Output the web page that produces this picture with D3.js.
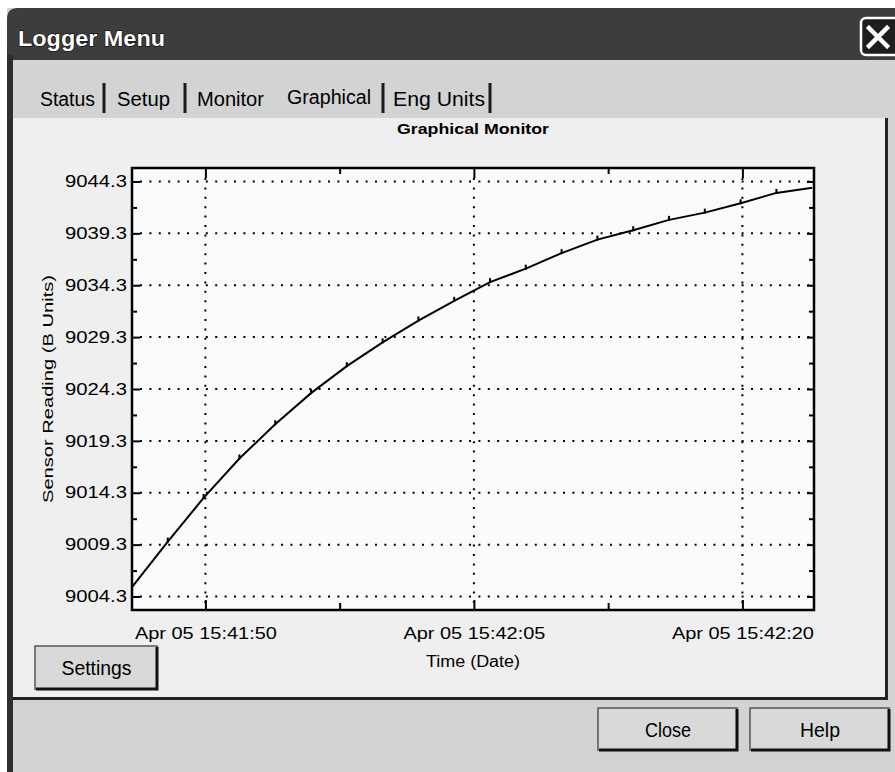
<!DOCTYPE html>
<html>
<head>
<meta charset="utf-8">
<script src="https://cdn.jsdelivr.net/npm/d3@7"></script>
<style>
  html, body { margin: 0; padding: 0; background: #ffffff; }
  svg { display: block; }
  text { font-family: "Liberation Sans", Arial, sans-serif; fill: #000; }
</style>
</head>
<body>
<svg id="win" width="895" height="772"></svg>
<script>
// ---- data -------------------------------------------------------------
// sample clock times (Apr 05) and logged sensor readings in B units
const sampleTimes = [
  "15:41:45.9", "15:41:47.9", "15:41:49.9", "15:41:51.9", "15:41:53.9",
  "15:41:55.9", "15:41:57.9", "15:41:59.9", "15:42:01.9", "15:42:03.9",
  "15:42:05.9", "15:42:07.9", "15:42:09.9", "15:42:11.9", "15:42:13.9",
  "15:42:15.9", "15:42:17.9", "15:42:19.9", "15:42:21.9", "15:42:23.9"
];
const readings = [
  9005.2, 9009.6, 9013.8, 9017.6, 9020.9,
  9023.9, 9026.5, 9028.8, 9030.9, 9032.8,
  9034.6, 9035.9, 9037.4, 9038.7, 9039.6,
  9040.6, 9041.3, 9042.2, 9043.2, 9043.7
];
const yTickValues  = [9004.3, 9009.3, 9014.3, 9019.3, 9024.3, 9029.3, 9034.3, 9039.3, 9044.3];
const yMinorValues = [9006.8, 9011.8, 9016.8, 9021.8, 9026.8, 9031.8, 9036.8, 9041.8];
const xTickTimes   = ["15:41:50", "15:42:05", "15:42:20"];
const xMinorTimes  = ["15:41:57.5", "15:42:12.5"];
const xDomainTimes = ["15:41:45.9", "15:42:24.0"];
const yDomain      = [9003.0, 9045.6];
const tabNames     = ["Status", "Setup", "Monitor", "Graphical", "Eng Units"];

// ---- helpers ----------------------------------------------------------
function clock(str) {
  const [h, m, s] = str.split(":");
  const sec = parseFloat(s);
  const whole = Math.floor(sec);
  return new Date(2004, 3, 5, +h, +m, whole, Math.round((sec - whole) * 1000));
}

const svg = d3.select("#win");

// ---- window chrome ----------------------------------------------------
const bodyFill = "#d3d3d3";
svg.append("rect").attr("x", 7).attr("y", 8).attr("width", 888).attr("height", 764).attr("fill", bodyFill);

// title bar with rounded top-left corner
svg.append("path")
  .attr("d", "M7,60 L7,19 Q7,8 18,8 L895,8 L895,60 Z")
  .attr("fill", "#3d3d3d");
svg.append("text")
  .attr("x", 18).attr("y", 46)
  .attr("textLength", 147).attr("lengthAdjust", "spacingAndGlyphs")
  .style("font-size", "22px").style("font-weight", "bold")
  .style("fill", "#ffffff").style("stroke", "#000").style("stroke-width", 1.2)
  .style("paint-order", "stroke")
  .text("Logger Menu");

// close box in the title bar
svg.append("rect").attr("x", 861).attr("y", 18).attr("width", 40).attr("height", 37)
  .attr("rx", 5).attr("fill", "#1e1e1e").attr("stroke", "#ffffff").attr("stroke-width", 2.5);
svg.append("path").attr("d", "M869,28 L887,46 M887,28 L869,46")
  .attr("stroke", "#ffffff").attr("stroke-width", 4.5).attr("stroke-linecap", "square");

// dark left frame
svg.append("rect").attr("x", 7).attr("y", 55).attr("width", 6).attr("height", 717).attr("fill", "#2e2e2e");

// tab strip
const tabX = [40, 117, 197, 287, 393];
const tabW = [55, 53, 67, 84, 92];
const sepX = [104, 185, 383, 490];
tabNames.forEach((name, i) => {
  svg.append("text")
    .attr("x", tabX[i]).attr("y", name === "Graphical" ? 104 : 106)
    .attr("textLength", tabW[i]).attr("lengthAdjust", "spacingAndGlyphs")
    .style("font-size", "20px")
    .text(name);
});
sepX.forEach(x => {
  svg.append("rect").attr("x", x - 1.5).attr("y", 83).attr("width", 3).attr("height", 30).attr("fill", "#1a1a1a");
});

// tab page
svg.append("rect").attr("x", 13).attr("y", 118).attr("width", 873).attr("height", 580).attr("fill", "#efefef");
svg.append("rect").attr("x", 885).attr("y", 118).attr("width", 3).attr("height", 582).attr("fill", "#222");
svg.append("rect").attr("x", 13).attr("y", 697).attr("width", 875).attr("height", 3).attr("fill", "#222");

// ---- chart ------------------------------------------------------------
const plot = { left: 132, right: 814, top: 168, bottom: 610 };

const x = d3.scaleTime()
  .domain(xDomainTimes.map(clock))
  .range([plot.left, plot.right]);
const y = d3.scaleLinear()
  .domain(yDomain)
  .range([plot.bottom, plot.top]);

const fmtTime = d3.timeFormat("%b %d %H:%M:%S");
const fmtVal = d3.format(".1f");

svg.append("rect")
  .attr("x", plot.left).attr("y", plot.top)
  .attr("width", plot.right - plot.left).attr("height", plot.bottom - plot.top)
  .attr("fill", "#fbfbfb");

// dotted grid
const grid = svg.append("g").attr("stroke", "#000").attr("stroke-width", 2).attr("stroke-dasharray", "2 7.4");
grid.selectAll("line.h").data(yTickValues).join("line")
  .attr("x1", plot.left + 8).attr("x2", plot.right)
  .attr("y1", d => y(d)).attr("y2", d => y(d));
grid.selectAll("line.v").data(xTickTimes.map(clock)).join("line")
  .attr("class", "v")
  .attr("x1", d => x(d)).attr("x2", d => x(d))
  .attr("y1", plot.top + 10).attr("y2", plot.bottom);

// left axis with labels, inward ticks
const yAxisL = d3.axisLeft(y).tickValues(yTickValues).tickFormat(fmtVal).tickSizeInner(-8).tickSizeOuter(0).tickPadding(5);
const gL = svg.append("g").attr("transform", `translate(${plot.left},0)`).call(yAxisL);
gL.select(".domain").remove();
gL.selectAll("line").attr("stroke", "#000").attr("stroke-width", 2);
gL.selectAll("text")
  .attr("textLength", 62).attr("lengthAdjust", "spacingAndGlyphs")
  .style("font-size", "16px").style("font-family", "'Liberation Sans', Arial, sans-serif");

const minorL = d3.axisLeft(y).tickValues(yMinorValues).tickFormat("").tickSizeInner(-5).tickSizeOuter(0);
svg.append("g").attr("transform", `translate(${plot.left},0)`).call(minorL)
  .call(g => g.select(".domain").remove())
  .selectAll("line").attr("stroke", "#000").attr("stroke-width", 2);

// right edge ticks
const yAxisR = d3.axisRight(y).tickValues(yTickValues).tickFormat("").tickSizeInner(-7).tickSizeOuter(0);
svg.append("g").attr("transform", `translate(${plot.right},0)`).call(yAxisR)
  .call(g => g.select(".domain").remove())
  .selectAll("line").attr("stroke", "#000").attr("stroke-width", 2);
const minorR = d3.axisRight(y).tickValues(yMinorValues).tickFormat("").tickSizeInner(-5).tickSizeOuter(0);
svg.append("g").attr("transform", `translate(${plot.right},0)`).call(minorR)
  .call(g => g.select(".domain").remove())
  .selectAll("line").attr("stroke", "#000").attr("stroke-width", 2);

// bottom axis
const xAxisB = d3.axisBottom(x).tickValues(xTickTimes.map(clock)).tickFormat(fmtTime)
  .tickSizeInner(-10).tickSizeOuter(0).tickPadding(17);
const gB = svg.append("g").attr("transform", `translate(0,${plot.bottom})`).call(xAxisB);
gB.select(".domain").remove();
gB.selectAll("line").attr("stroke", "#000").attr("stroke-width", 2);
gB.selectAll("text")
  .attr("textLength", 142).attr("lengthAdjust", "spacingAndGlyphs")
  .style("font-size", "17px").style("font-family", "'Liberation Sans', Arial, sans-serif");

const minorB = d3.axisBottom(x).tickValues(xMinorTimes.map(clock)).tickFormat("").tickSizeInner(-7).tickSizeOuter(0);
svg.append("g").attr("transform", `translate(0,${plot.bottom})`).call(minorB)
  .call(g => g.select(".domain").remove())
  .selectAll("line").attr("stroke", "#000").attr("stroke-width", 2);

// top edge ticks
const xAxisT = d3.axisTop(x).tickValues(xTickTimes.map(clock)).tickFormat("").tickSizeInner(-10).tickSizeOuter(0);
svg.append("g").attr("transform", `translate(0,${plot.top})`).call(xAxisT)
  .call(g => g.select(".domain").remove())
  .selectAll("line").attr("stroke", "#000").attr("stroke-width", 2);
const minorT = d3.axisTop(x).tickValues(xMinorTimes.map(clock)).tickFormat("").tickSizeInner(-6).tickSizeOuter(0);
svg.append("g").attr("transform", `translate(0,${plot.top})`).call(minorT)
  .call(g => g.select(".domain").remove())
  .selectAll("line").attr("stroke", "#000").attr("stroke-width", 2);

// plot frame
svg.append("rect")
  .attr("x", plot.left).attr("y", plot.top)
  .attr("width", plot.right - plot.left).attr("height", plot.bottom - plot.top)
  .attr("fill", "none").attr("stroke", "#000").attr("stroke-width", 2.5);

// reading trace
const pts = sampleTimes.map((t, i) => ({ t: clock(t), v: readings[i] }));
svg.append("path")
  .datum(pts)
  .attr("fill", "none").attr("stroke", "#000").attr("stroke-width", 2)
  .attr("d", d3.line().x(d => x(d.t)).y(d => y(d.v)));
// sample markers
svg.append("g").selectAll("line").data(pts.slice(1, -1)).join("line")
  .attr("x1", d => x(d.t)).attr("x2", d => x(d.t))
  .attr("y1", d => y(d.v) - 4).attr("y2", d => y(d.v) + 1)
  .attr("stroke", "#000").attr("stroke-width", 2);

// titles
const midX = (plot.left + plot.right) / 2;
svg.append("text")
  .attr("x", midX).attr("y", 134).attr("text-anchor", "middle")
  .attr("textLength", 152).attr("lengthAdjust", "spacingAndGlyphs")
  .style("font-size", "15px").style("font-weight", "bold")
  .text("Graphical Monitor");
svg.append("text")
  .attr("x", midX).attr("y", 667).attr("text-anchor", "middle")
  .attr("textLength", 94).attr("lengthAdjust", "spacingAndGlyphs")
  .style("font-size", "16px")
  .text("Time (Date)");
svg.append("text")
  .attr("transform", `translate(53,${(plot.top + plot.bottom) / 2}) rotate(-90)`)
  .attr("text-anchor", "middle")
  .attr("textLength", 228).attr("lengthAdjust", "spacingAndGlyphs")
  .style("font-size", "15px")
  .text("Sensor Reading (B Units)");

// ---- push buttons -----------------------------------------------------
function button(bx, by, bw, bh, label, lw) {
  const g = svg.append("g");
  g.append("rect").attr("x", bx).attr("y", by).attr("width", bw).attr("height", bh).attr("fill", "#d9d9d9");
  g.append("path").attr("d", `M${bx},${by + bh} L${bx},${by} L${bx + bw},${by}`)
    .attr("fill", "none").attr("stroke", "#555").attr("stroke-width", 1.5);
  g.append("path").attr("d", `M${bx + 1},${by + bh - 1} L${bx + bw - 1},${by + bh - 1} L${bx + bw - 1},${by + 1}`)
    .attr("fill", "none").attr("stroke", "#111").attr("stroke-width", 3);
  g.append("text").attr("x", bx + bw / 2).attr("y", by + bh / 2 + 7).attr("text-anchor", "middle")
    .attr("textLength", lw).attr("lengthAdjust", "spacingAndGlyphs")
    .style("font-size", "20px").text(label);
}
button(35, 646, 123, 44, "Settings", 70);
button(598, 708, 140, 43, "Close", 46);
button(750, 708, 140, 43, "Help", 40);
</script>
</body>
</html>
